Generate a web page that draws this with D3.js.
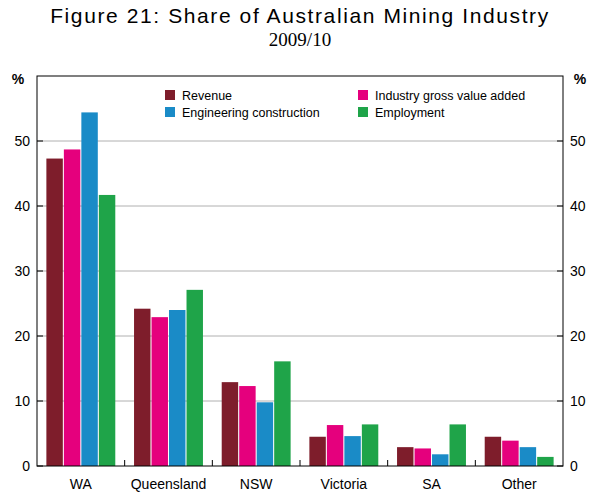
<!DOCTYPE html><html><head><meta charset="utf-8"><script src="https://cdn.jsdelivr.net/npm/d3@7"></script>
<style>body{margin:0;background:#fff}</style></head><body><svg id="c" width="599" height="496"></svg>
<script>
const categories=["WA","Queensland","NSW","Victoria","SA","Other"];
const seriesNames=["Revenue","Industry gross value added","Engineering construction","Employment"];
const colors=["#7e1d2b","#e5007d","#1a8bc7","#1fa449"];
const revenue=[47.3,24.2,12.9,4.5,2.9,4.5];
const igva=[48.7,22.9,12.3,6.3,2.7,3.9];
const engcon=[54.4,24.0,9.8,4.6,1.8,2.9];
const employment=[41.7,27.1,16.1,6.4,6.4,1.4];
const ticks=[0,10,20,30,40,50];
const series=[revenue,igva,engcon,employment];
const svg=d3.select("#c");
const L=37,R=563,T=76,B=466;
const y=d3.scaleLinear().domain([0,60]).range([B,T]);
const x=d3.scaleBand().domain(categories).range([L,R]).paddingInner(0.19).paddingOuter(0.095);
const xs=d3.scaleBand().domain(d3.range(4)).range([0,x.bandwidth()]).padding(0.06);
ticks.slice(1).forEach(t=>svg.append("line").attr("x1",L).attr("x2",R).attr("y1",y(t)).attr("y2",y(t)).attr("stroke","#b0b0b0").attr("stroke-width",1));
series.forEach((s,i)=>svg.append("g").selectAll("rect").data(s).join("rect")
 .attr("x",(d,j)=>x(categories[j])+xs(i)).attr("width",xs.bandwidth())
 .attr("y",d=>y(d)).attr("height",d=>B-y(d)).attr("fill",colors[i]));
svg.append("rect").attr("x",L).attr("y",T).attr("width",R-L).attr("height",B-T).attr("fill","none").attr("stroke","#000");
const step=(R-L)/6;
d3.range(1,6).forEach(k=>svg.append("line").attr("x1",L+k*step).attr("x2",L+k*step).attr("y1",B).attr("y2",B-6).attr("stroke","#000"));
ticks.forEach(t=>{
 svg.append("line").attr("x1",L).attr("x2",L+6).attr("y1",y(t)).attr("y2",y(t)).attr("stroke","#000");
 svg.append("line").attr("x1",R-6).attr("x2",R).attr("y1",y(t)).attr("y2",y(t)).attr("stroke","#000");
 svg.append("text").attr("x",L-7).attr("y",y(t)+5).attr("text-anchor","end").text(t).attr("font-family","Arial, Liberation Sans").attr("font-size",14);
 svg.append("text").attr("x",R+7).attr("y",y(t)+5).attr("text-anchor","start").text(t).attr("font-family","Arial, Liberation Sans").attr("font-size",14);
});
svg.append("text").attr("x",18).attr("y",84).text("%").attr("font-family","Liberation Sans").attr("font-size",14).attr("font-weight","bold").attr("text-anchor","middle");
svg.append("text").attr("x",580).attr("y",84).text("%").attr("font-family","Liberation Sans").attr("font-size",14).attr("font-weight","bold").attr("text-anchor","middle");
categories.forEach(c=>svg.append("text").attr("x",x(c)+x.bandwidth()/2).attr("y",489).attr("text-anchor","middle").text(c).attr("font-family","Liberation Sans").attr("font-size",14));
const lg=[[165,100],[358,100],[165,117],[358,117]];
seriesNames.forEach((n,i)=>{svg.append("rect").attr("x",lg[i][0]).attr("y",lg[i][1]-10).attr("width",10).attr("height",10).attr("fill",colors[i]);
 svg.append("text").attr("x",lg[i][0]+17).attr("y",lg[i][1]).text(n).attr("font-family","Liberation Sans").attr("font-size",12.5);});
svg.append("text").attr("x",300).attr("y",23).attr("text-anchor","middle").text("Figure 21: Share of Australian Mining Industry").attr("font-family","Liberation Sans Narrow, Liberation Sans").attr("font-size",21).attr("letter-spacing",1.6);
svg.append("text").attr("x",300).attr("y",46).attr("text-anchor","middle").text("2009/10").attr("font-family","Liberation Serif").attr("font-size",19);
</script></body></html>
